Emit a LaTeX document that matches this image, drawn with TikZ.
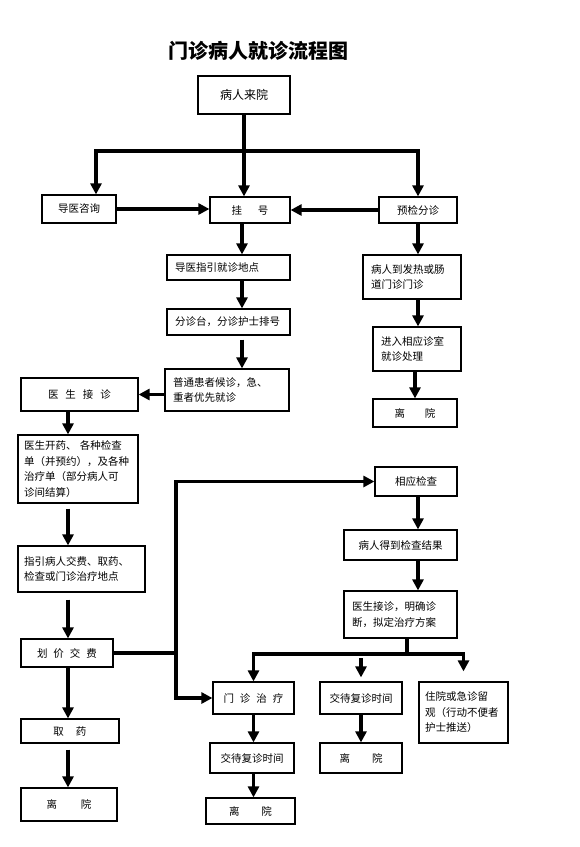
\documentclass[tikz,border=0pt]{standalone}
\usepackage{fontspec}
\setmainfont{Noto Sans CJK SC}
\usetikzlibrary{arrows.meta}

\tikzset{
  box/.style={draw, rectangle, line width=1.2pt, inner xsep=8pt, inner ysep=2pt,
    font=\fontsize{10.5}{15.5}\selectfont, align=left},
  arr/.style={line width=3.5pt, -{Triangle[width=11pt,length=11pt]}},
  link/.style={line width=3.5pt},
}

\begin{document}
\begin{tikzpicture}[x=1pt, y=-1pt]
  \useasboundingbox (0,0) rectangle (579,847);
  % title
  \node (title) at (258,51) {\fontsize{20}{24}\selectfont\bfseries 门诊病人就诊流程图};

  % top row
  \node [box, text width=76pt, minimum height=38pt, align=center, font=\fontsize{12}{14}\selectfont] (laiyuan) at (244,95) {病人来院};
  \node [box, text width=58pt, minimum height=28pt, align=center] (daoyi) at (79,209) {导医咨询};
  \node [box, text width=64pt, minimum height=26pt, align=center] (guahao) at (250,210) {挂\hspace{16pt}号};
  \node [box, text width=62pt, minimum height=26pt, align=center] (yujian) at (418,210) {预检分诊};

  % middle column
  \node [box, text width=107pt, minimum height=25pt] (zhiyin) at (228.5,267.5) {导医指引就诊地点};
  \node [box, text width=107pt, minimum height=26pt] (fenzhen) at (228.5,322) {分诊台，分诊护士排号};
  \node [box, text width=108pt, minimum height=42pt] (houzhen) at (227,390) {普通患者候诊，急、\\重者优先就诊};

  % right column
  \node [box, text width=82pt, minimum height=44pt] (fare) at (412,277) {病人到发热或肠\\道门诊门诊};
  \node [box, text width=72pt, minimum height=44pt] (zhenshi) at (417,349) {进入相应诊室\\就诊处理};
  \node [box, text width=68pt, minimum height=28pt, align=center] (likai1) at (415,413) {离\hspace{20pt}院};

  % left column
  \node [box, text width=101pt, minimum height=33pt, align=center] (jiezhen) at (79.5,394.5) {医\hspace{7pt}生\hspace{7pt}接\hspace{7pt}诊};
  \node [box, inner xsep=6pt, text width=108pt, minimum height=68pt] (kaiyao) at (78,469) {医生开药、 各种检查\\单（并预约），及各种\\治疗单（部分病人可\\诊间结算）};
  \node [box, inner xsep=6pt, text width=115pt, minimum height=46pt] (zhiyin2) at (81.5,569) {指引病人交费、取药、\\检查或门诊治疗地点};
  \node [box, text width=76pt, minimum height=28pt, align=center] (jiaofei) at (67,653) {划\hspace{6pt}价\hspace{6pt}交\hspace{6pt}费};
  \node [box, text width=82pt, minimum height=24pt, align=center] (quyao) at (70,731) {取\hspace{12pt}药};
  \node [box, text width=80pt, minimum height=33pt, align=center] (likai2) at (69,804.5) {离\hspace{24pt}院};

  % examination branch
  \node [box, text width=66pt, minimum height=29pt, align=center] (jiancha) at (416,481.5) {相应检查};
  \node [box, text width=97pt, minimum height=30pt, align=center] (jieguo) at (400.5,545) {病人得到检查结果};
  \node [box, text width=97pt, minimum height=47pt] (fangan) at (400.5,614.5) {医生接诊，明确诊\\断，拟定治疗方案};

  % bottom row
  \node [box, text width=65pt, minimum height=32pt, align=center] (zhiliao) at (253.5,698) {门\hspace{6pt}诊\hspace{6pt}治\hspace{6pt}疗};
  \node [box, text width=68pt, minimum height=30pt, align=center] (fuzhen1) at (252,758) {交待复诊时间};
  \node [box, text width=73pt, minimum height=26pt, align=center] (likai3) at (250.5,811) {离\hspace{22pt}院};
  \node [box, text width=66pt, minimum height=32pt, align=center] (fuzhen2) at (361,698) {交待复诊时间};
  \node [box, text width=66pt, minimum height=30pt, align=center] (likai4) at (361,758) {离\hspace{22pt}院};
  \node [box, inner xsep=6pt, text width=77pt, minimum height=61pt] (zhuyuan) at (463.5,712.5) {住院或急诊留\\观（行动不便者\\护士推送）};

  % helper points for the arrow lanes
  \coordinate (split) at (244,151);
  \coordinate (colA) at (96,0);
  \coordinate (colM) at (242,0);
  \coordinate (colL) at (68,0);
  \coordinate (trunk) at (176,0);
  \coordinate (fork) at (407,654);

  % arrival
  \draw[arr] (laiyuan.south) -- (laiyuan.south |- guahao.north);
  \draw[arr] (split) -| (colA |- daoyi.north);
  \draw[arr] (split) -| (yujian.north);
  \draw[arr] (daoyi.east) -- (guahao.west |- daoyi.east);
  \draw[arr] (yujian.west) -- (guahao.east);

  % registration path
  \draw[arr] (guahao.south -| colM) -- (zhiyin.north -| colM);
  \draw[arr] (zhiyin.south -| colM) -- (fenzhen.north -| colM);
  \draw[arr, shorten <=4pt] (fenzhen.south -| colM) -- (houzhen.north -| colM);
  \draw[arr] (houzhen.west |- jiezhen.east) -- (jiezhen.east);
  \draw[arr] (jiezhen.south -| colL) -- (kaiyao.north -| colL);
  \draw[arr, shorten <=5pt] (kaiyao.south -| colL) -- (zhiyin2.north -| colL);
  \draw[arr, shorten <=7pt] (zhiyin2.south -| colL) -- (jiaofei.north -| colL);
  \draw[arr] (jiaofei.south -| colL) -- (quyao.north -| colL);
  \draw[arr, shorten <=6pt] (quyao.south -| colL) -- (likai2.north -| colL);

  % triage path
  \draw[arr] (yujian.south) -- (fare.north -| yujian.south);
  \draw[arr] (fare.south -| yujian.south) -- (zhenshi.north -| yujian.south);
  \draw[arr] (zhenshi.south -| likai1) -- (likai1.north);

  % after payment
  \draw[link] (jiaofei.east) -- (trunk |- jiaofei.east);
  \draw[arr] (trunk |- jiaofei.east) |- (jiancha.west);
  \draw[arr] (trunk |- jiaofei.east) |- (zhiliao.west);
  \draw[arr] (jiancha.south -| yujian.south) -- (jieguo.north -| yujian.south);
  \draw[arr] (jieguo.south -| yujian.south) -- (fangan.north -| yujian.south);

  % treatment plan
  \draw[link] (fangan.south -| fork) -- (fork);
  \draw[arr] (fork) -| (zhiliao.north);
  \draw[arr, shorten >=10pt] (fork) -| (zhuyuan.north);
  \draw[arr, shorten <=4pt, shorten >=4pt] (fork -| fuzhen2) -- (fuzhen2.north);
  \draw[arr] (zhiliao.south) -- (fuzhen1.north -| zhiliao.south);
  \draw[arr] (fuzhen1.south -| zhiliao.south) -- (likai3.north -| zhiliao.south);
  \draw[arr] (fuzhen2.south) -- (likai4.north);
\end{tikzpicture}
\end{document}
